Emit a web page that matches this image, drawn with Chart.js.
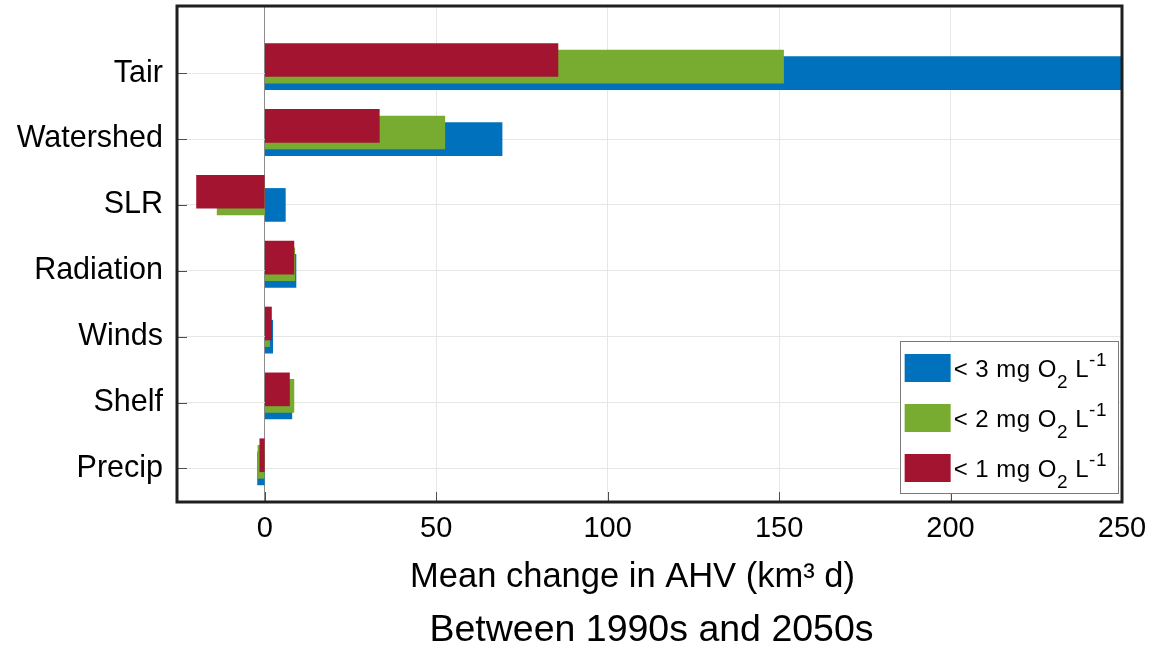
<!DOCTYPE html>
<html>
<head>
<meta charset="utf-8">
<script src="https://cdn.jsdelivr.net/npm/chart.js@4.4.1/dist/chart.umd.min.js"></script>
<style>
  html, body { margin: 0; padding: 0; background: #ffffff; }
  #wrap { width: 1149px; height: 652px; }
</style>
</head>
<body>
<div id="wrap"><canvas id="chart" width="1149" height="652"></canvas></div>
<script>
// Drivers of the change in anoxic/hypoxic volume, top to bottom
const categories = ['Tair', 'Watershed', 'SLR', 'Radiation', 'Winds', 'Shelf', 'Precip'];

// Mean change in AHV (km^3 d) per oxygen threshold
const below3 = [250, 69.2, 6.0, 9.1, 2.3, 7.9, -2.1];
const below2 = [151.3, 52.5, -13.9, 8.75, 1.4, 8.5, -2.0];
const below1 = [85.5, 33.4, -19.9, 8.5, 1.95, 7.2, -1.45];

const xTicks = [0, 50, 100, 150, 200, 250];

const seriesLabels = ['< 3 mg O₂ L⁻¹', '< 2 mg O₂ L⁻¹', '< 1 mg O₂ L⁻¹'];
// legend text split into: normal, subscript, normal, superscript
const legendParts = [
  ['< 3 mg O', '2', ' L', '-1'],
  ['< 2 mg O', '2', ' L', '-1'],
  ['< 1 mg O', '2', ' L', '-1']
];

const xTitle = 'Mean change in AHV (km³ d)';
const subTitle = 'Between 1990s and 2050s';

const FONT = '"Liberation Sans", Arial, Helvetica, sans-serif';
const colors = ['#0072BD', '#77AC30', '#A2142F'];
// each threshold is nudged upward a little so the bars overlap in a staircase
const rowShift = [0, 0.1, 0.2];

const rowOf = i => categories.length - i;

function series(values, k) {
  return values.map((v, i) => ({ x: v, y: rowOf(i) + rowShift[k] }));
}

const overlayPlugin = {
  id: 'overlay',
  afterDraw(chart) {
    const ctx = chart.ctx;
    const a = chart.chartArea;
    const xs = chart.scales.x, ys = chart.scales.y;
    ctx.save();

    // inward tick marks
    ctx.strokeStyle = '#4d4d4d';
    ctx.lineWidth = 1;
    ctx.beginPath();
    ys.ticks.forEach(t => {
      const py = Math.round(ys.getPixelForValue(t.value)) + 0.5;
      ctx.moveTo(a.left, py); ctx.lineTo(a.left + 10, py);
    });
    xs.ticks.forEach(t => {
      const px = Math.round(xs.getPixelForValue(t.value)) + 0.5;
      ctx.moveTo(px, a.bottom); ctx.lineTo(px, a.bottom - 10);
    });
    ctx.stroke();

    // axes box
    ctx.strokeStyle = '#1f1f1f';
    ctx.lineWidth = 3;
    ctx.strokeRect(a.left, a.top, a.right - a.left, a.bottom - a.top);

    // legend
    const fMain = 24, fSub = 19, fSup = 19;
    const sw = 46, sh = 28, rowGap = 50;
    const padL = 5, gap = 3, padR = 11, padT = 13, padB = 11;
    ctx.letterSpacing = '0.5px';
    const fontFor = j => ((j === 1) ? fSub : (j === 3 ? fSup : fMain)) + 'px ' + FONT;
    const widthOf = parts => {
      let w = 0;
      parts.forEach((p, j) => { ctx.font = fontFor(j); w += ctx.measureText(p).width; });
      return w;
    };
    const textW = Math.max(...legendParts.map(widthOf));
    const boxW = padL + sw + gap + textW + padR;
    const boxH = padT + sh + rowGap * (legendParts.length - 1) + padB;
    const bx = a.right - 4 - boxW;
    const by = a.bottom - 9 - boxH;
    ctx.fillStyle = '#ffffff';
    ctx.fillRect(bx, by, boxW, boxH);
    ctx.strokeStyle = '#7a7a7a';
    ctx.lineWidth = 1;
    ctx.strokeRect(Math.round(bx) + 0.5, Math.round(by) + 0.5, Math.round(boxW), Math.round(boxH));

    chart.data.datasets.forEach((ds, k) => {
      const sy = by + padT + k * rowGap;
      ctx.fillStyle = ds.backgroundColor;
      ctx.fillRect(bx + padL, sy, sw, sh);
      let tx = bx + padL + sw + gap;
      const base = sy + 22.7;
      ctx.fillStyle = '#000000';
      ctx.textBaseline = 'alphabetic';
      ctx.textAlign = 'left';
      legendParts[k].forEach((p, j) => {
        let dy = 0;
        if (j === 1) dy = 11;
        if (j === 3) dy = -11;
        ctx.font = fontFor(j);
        ctx.fillText(p, tx, base + dy);
        tx += ctx.measureText(p).width;
      });
    });
    ctx.letterSpacing = '0px';

    // axis title and caption
    const cx = (a.left + a.right) / 2;
    ctx.fillStyle = '#000000';
    ctx.textAlign = 'center';
    ctx.textBaseline = 'alphabetic';
    ctx.font = '34.5px ' + FONT;
    ctx.fillText(xTitle, cx - 17, a.bottom + 85);
    ctx.font = '37.5px ' + FONT;
    ctx.fillText(subTitle, cx + 2, a.bottom + 139);

    ctx.restore();
  }
};

new Chart(document.getElementById('chart'), {
  type: 'bar',
  data: {
    datasets: [
      { label: seriesLabels[0], data: series(below3, 0), backgroundColor: colors[0], order: 3 },
      { label: seriesLabels[1], data: series(below2, 1), backgroundColor: colors[1], order: 2 },
      { label: seriesLabels[2], data: series(below1, 2), backgroundColor: colors[2], order: 1 }
    ]
  },
  options: {
    indexAxis: 'y',
    responsive: false,
    animation: false,
    grouped: false,
    barThickness: 33,
    borderWidth: 0,
    layout: { padding: { left: 0, top: 6, right: 27, bottom: 0 } },
    plugins: {
      legend: { display: false },
      tooltip: { enabled: false },
      title: { display: false }
    },
    scales: {
      x: {
        type: 'linear',
        min: -25.6,
        max: 250,
        afterBuildTicks: s => { s.ticks = xTicks.map(v => ({ value: v })); },
        afterFit: s => { s.height = 150; s.paddingLeft = 0; s.paddingRight = 0; },
        border: { display: false },
        grid: {
          drawTicks: false,
          color: c => (c.tick && c.tick.value === 0) ? '#8c8c8c' : '#e6e6e6',
          lineWidth: 1
        },
        ticks: {
          autoSkip: false,
          maxRotation: 0,
          padding: 10,
          color: '#000000',
          font: { family: FONT, size: 29 }
        }
      },
      y: {
        type: 'linear',
        offset: false,
        min: 0.49,
        max: 8.02,
        afterBuildTicks: s => { s.ticks = categories.map((c, i) => ({ value: rowOf(i) })); },
        afterFit: s => { s.width = 177; s.paddingTop = 0; s.paddingBottom = 0; },
        border: { display: false },
        grid: { offset: false, drawTicks: false, color: '#e6e6e6', lineWidth: 1 },
        ticks: {
          autoSkip: false,
          padding: 14,
          color: '#000000',
          font: { family: FONT, size: 30.5 },
          callback: v => categories[categories.length - v]
        }
      }
    }
  },
  plugins: [overlayPlugin]
});
</script>
</body>
</html>
